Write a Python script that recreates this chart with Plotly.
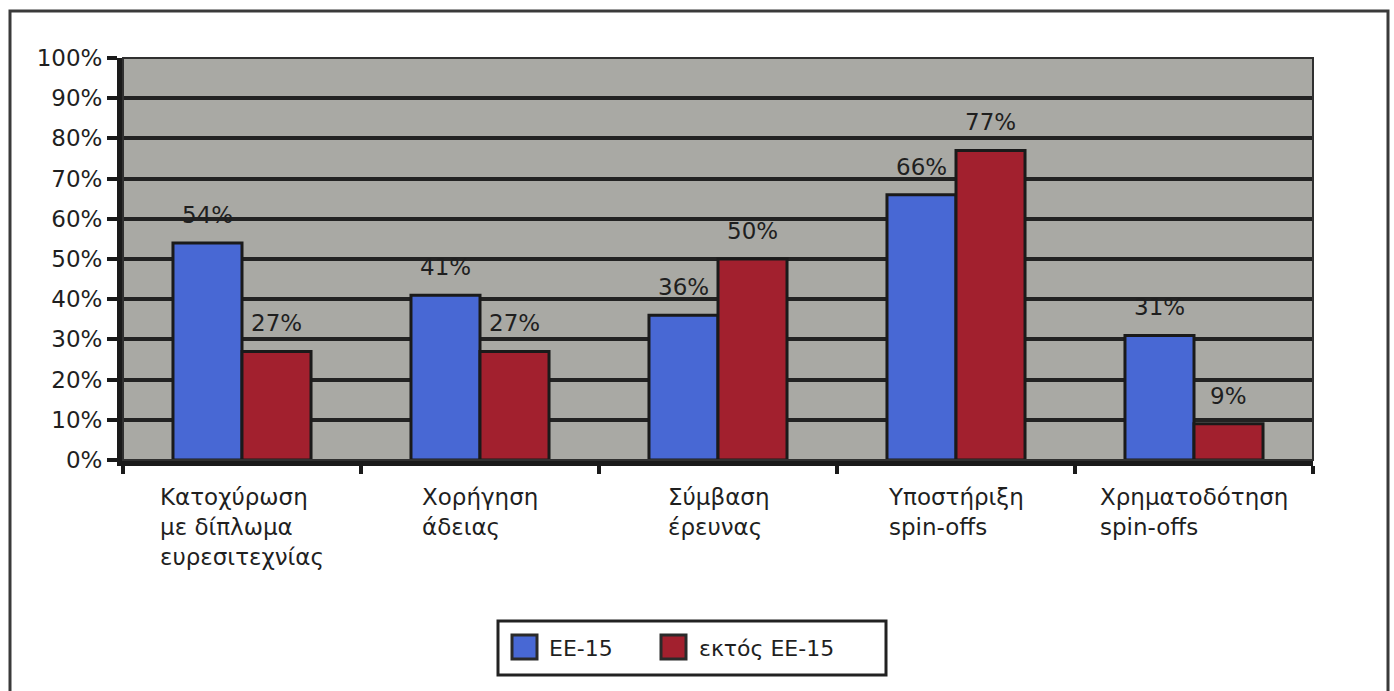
import plotly.graph_objects as go

# Share of institutions using each technology-transfer route
categories = [
    "Κατοχύρωση<br>με δίπλωμα<br>ευρεσιτεχνίας",
    "Χορήγηση<br>άδειας",
    "Σύμβαση<br>έρευνας",
    "Υποστήριξη<br>spin-offs",
    "Χρηματοδότηση<br>spin-offs",
]
series_names = ["ΕΕ-15", "εκτός ΕΕ-15"]
eu15 = [54, 41, 36, 66, 31]
non_eu15 = [27, 27, 50, 77, 9]
y_ticks = list(range(0, 101, 10))

W, H = 1394, 691
ML, MR, MT, MB = 123, 81, 58, 231
PW, PH = W - ML - MR, H - MT - MB

FONT = "DejaVu Sans"
TXT = "#1f1f1f"
BLUE = "#4868d4"
RED = "#a2202e"
EDGE = "#1a1a1a"
BARGAP = 0.42


def px_x(p):
    return (p - ML) / PW


def px_y(p):
    return (H - MB - p) / PH


idx = list(range(len(categories)))
series = [(series_names[0], eu15, BLUE), (series_names[1], non_eu15, RED)]

fig = go.Figure()
for name, vals, col in series:
    fig.add_trace(go.Bar(
        x=idx, y=vals, name=name, showlegend=False,
        marker=dict(color=col, line=dict(color=EDGE, width=3)),
    ))

# value labels above each bar
half = (1 - BARGAP) / 4
annotations = []
for (_, vals, _), off in zip(series, [-half, half]):
    for i, v in enumerate(vals):
        annotations.append(dict(
            x=i + off, y=v, xref="x", yref="y", text=f"{v}%",
            showarrow=False, yanchor="middle", yshift=28,
            font=dict(family=FONT, size=23, color=TXT),
        ))

# category labels: block centred under the group, lines left-aligned
for i, c in enumerate(categories):
    annotations.append(dict(
        x=i, y=0, xref="x", yref="paper", text=c, showarrow=False,
        xanchor="center", yanchor="top", align="left", yshift=-22,
        font=dict(family=FONT, size=23, color=TXT),
    ))

shapes = [
    # frame around the plotting area
    dict(type="rect", xref="paper", yref="paper", x0=0, x1=1, y0=0, y1=1,
         line=dict(color="#303030", width=2), layer="above"),
    # outer border of the chart
    dict(type="rect", xref="paper", yref="paper",
         x0=px_x(10), x1=px_x(1388), y0=px_y(705), y1=px_y(11),
         line=dict(color="#3a3a3a", width=3)),
    # legend box
    dict(type="rect", xref="paper", yref="paper",
         x0=px_x(498), x1=px_x(886), y0=px_y(675), y1=px_y(621),
         line=dict(color="#222222", width=3), fillcolor="white"),
]

# legend entries: swatch + series name
legend_slots = [(512, 547), (661, 697)]
for (name, _, col), (sx, tx) in zip(series, legend_slots):
    shapes.append(dict(
        type="rect", xref="paper", yref="paper",
        x0=px_x(sx), x1=px_x(sx + 25), y0=px_y(659), y1=px_y(635),
        line=dict(color="#2a2a2a", width=3), fillcolor=col,
    ))
    annotations.append(dict(
        x=px_x(tx), y=px_y(648), xref="paper", yref="paper", text=name,
        showarrow=False, xanchor="left", yanchor="middle",
        font=dict(family=FONT, size=22, color=TXT),
    ))

fig.update_layout(
    width=W, height=H,
    margin=dict(l=ML, r=MR, t=MT, b=MB),
    paper_bgcolor="white",
    plot_bgcolor="#a9a9a4",
    barmode="group", bargap=BARGAP, bargroupgap=0,
    font=dict(family=FONT, size=22, color=TXT),
    showlegend=False,
    annotations=annotations,
    shapes=shapes,
)
fig.update_xaxes(
    range=[-0.5, len(categories) - 0.5],
    tickmode="array",
    tickvals=[i - 0.5 for i in range(len(categories) + 1)],
    showticklabels=False,
    ticks="outside", ticklen=8, tickwidth=4, tickcolor=EDGE,
    showline=True, linecolor=EDGE, linewidth=6,
    showgrid=False, zeroline=False,
)
fig.update_yaxes(
    range=[0, 100], tickvals=y_ticks, ticktext=[f"{t}%" for t in y_ticks],
    ticks="outside", ticklen=10, tickwidth=4, tickcolor=EDGE,
    showline=True, linecolor=EDGE, linewidth=6,
    showgrid=True, gridcolor="#222222", gridwidth=4, zeroline=False,
    tickfont=dict(family=FONT, size=23, color=TXT),
)

fig.write_html("out.html")
